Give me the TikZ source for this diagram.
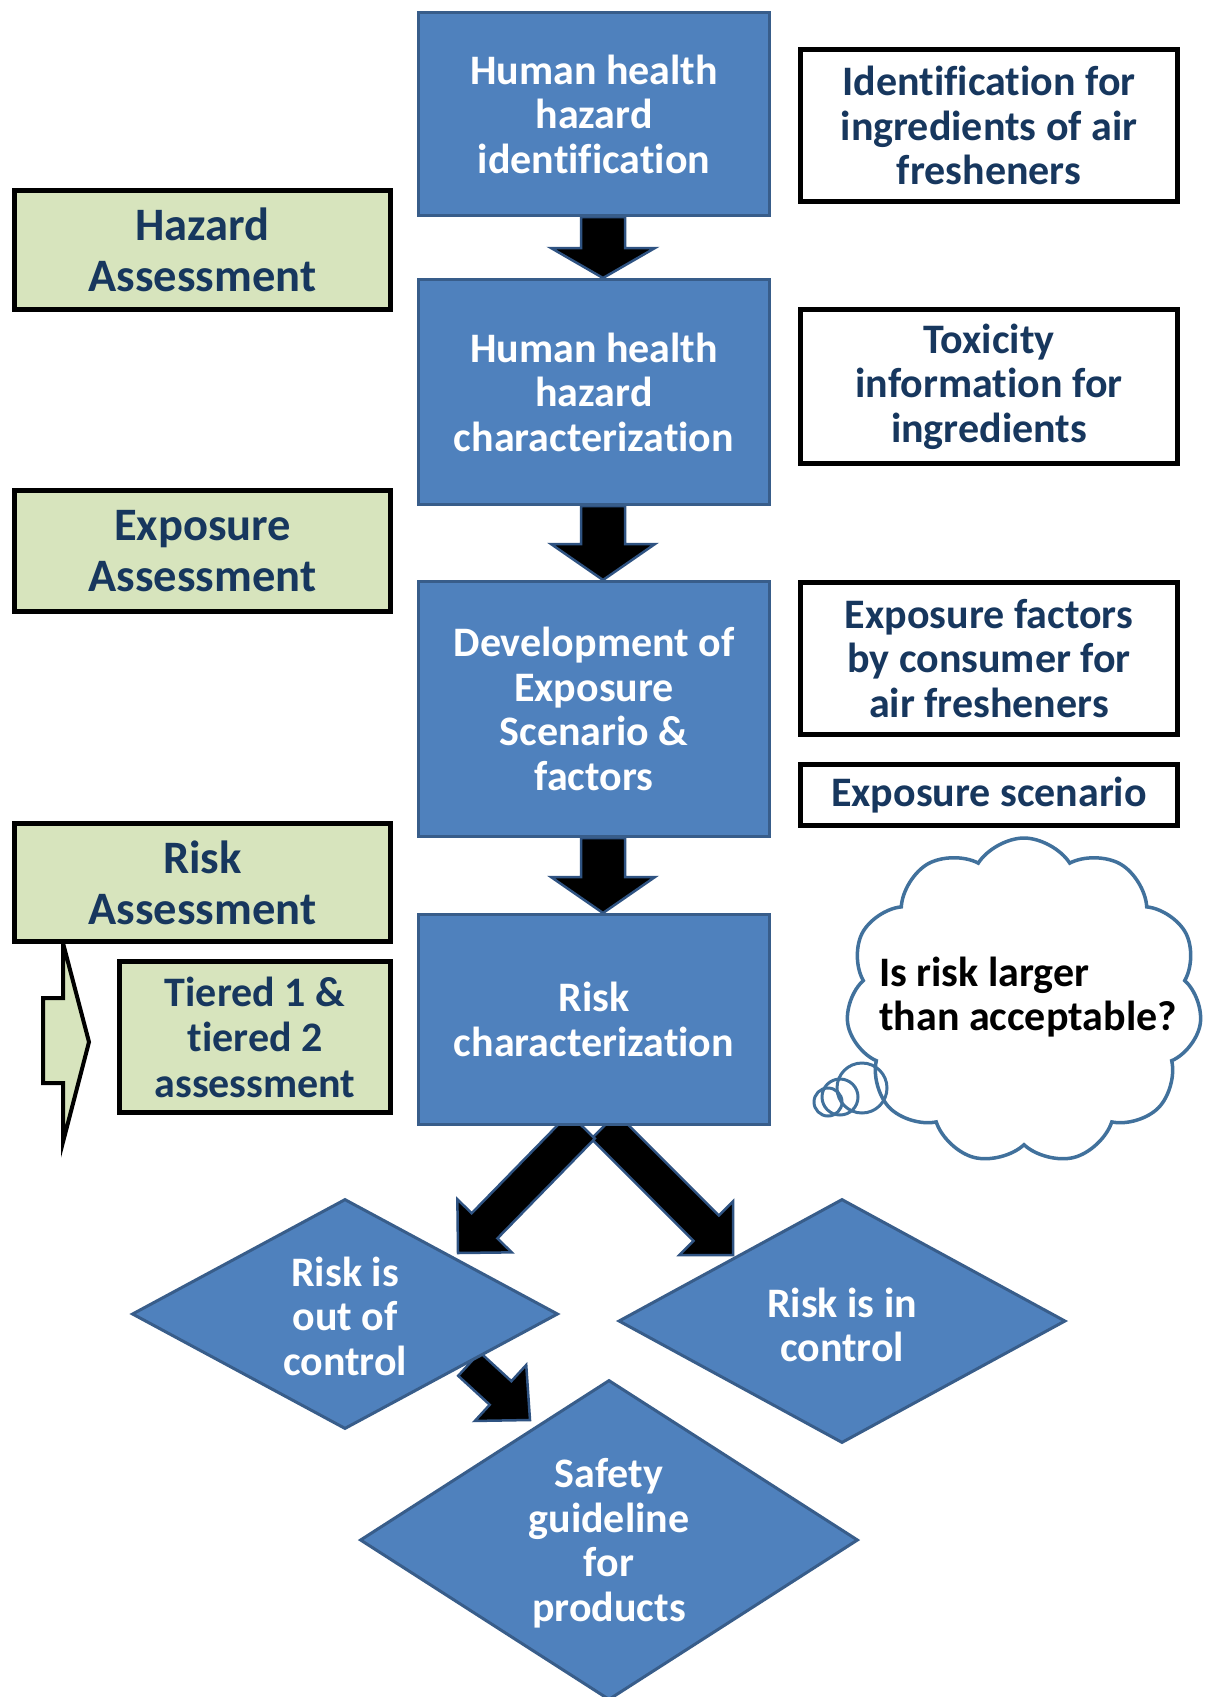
\documentclass[tikz,border=0pt]{standalone}
\usepackage{fontspec}
\setmainfont{Carlito}[Ligatures={NoCommon,NoRequired,NoContextual}]
\usetikzlibrary{calc,shapes.geometric,shapes.symbols,backgrounds}
\definecolor{bluefill}{HTML}{4F81BD}
\definecolor{blueedge}{HTML}{385D8A}
\definecolor{greenfill}{HTML}{D7E4BD}
\definecolor{navy}{HTML}{17375E}
\definecolor{cloudedge}{HTML}{41719C}
\definecolor{arrowedge}{HTML}{2F5382}
\tikzset{
  bluebox/.style={rectangle, fill=bluefill, draw=blueedge, line width=3pt, minimum width=351pt,
    text=white, font=\fontsize{42}{44.5}\selectfont\bfseries, align=center, inner sep=0pt},
  greenbox/.style={rectangle, fill=greenfill, draw=black, line width=5.5pt,
    text=navy, font=\fontsize{46.5}{51}\selectfont\bfseries, align=center, inner sep=0pt},
  whitebox/.style={rectangle, fill=white, draw=black, line width=5.5pt, minimum width=377pt,
    text=navy, font=\fontsize{42}{44.5}\selectfont\bfseries, align=center, inner sep=0pt},
  dia/.style={diamond, fill=bluefill, draw=blueedge, line width=3pt, inner sep=0pt},
  diatext/.style={text=white, font=\fontsize{42}{44.5}\selectfont\bfseries, align=center, inner sep=0pt},
  blockarrow/.style={fill=black, draw=arrowedge, line width=2.5pt, line join=miter},
  cloudtext/.style={text=black, font=\fontsize{42}{44}\selectfont\bfseries, align=left, inner sep=0pt},
  bubble/.style={draw=cloudedge, line width=3pt},
}
% #1 start, #2 tip, #3 shaft half width, #4 head half width, #5 head length
\newcommand\blockarrowdraw[5]{%
  \coordinate (ba-s) at #1;
  \coordinate (ba-t) at #2;
  \coordinate (ba-b) at ($(ba-t)!#5!(ba-s)$);
  \draw[blockarrow] ($(ba-s)!#3!90:(ba-t)$) -- ($(ba-b)!#3!90:(ba-t)$)
    -- ($(ba-b)!#4!90:(ba-t)$) -- (ba-t) -- ($(ba-b)!#4!-90:(ba-t)$)
    -- ($(ba-b)!#3!-90:(ba-t)$) -- ($(ba-s)!#3!-90:(ba-t)$) -- cycle;
}
\begin{document}
\begin{tikzpicture}[x=1pt,y=-1pt]
\useasboundingbox (0,0) rectangle (1206,1697);

% main column
\node[bluebox, minimum height=203pt] (b1) at (594,114) {Human health\\hazard\\identification};
\node[bluebox, minimum height=225pt] (b2) at (594,392) {Human health\\hazard\\characterization};
\node[bluebox, minimum height=255pt] (b3) at (594,709) {Development of\\Exposure\\Scenario \&\\factors};
\node[bluebox, minimum height=210pt] (b4) at (594,1019.5) {Risk\\characterization};

% left chevron
\draw[fill=greenfill, draw=black, line width=4pt, line join=miter]
  (63,943) -- (89,1042) -- (63,1142) -- (63,1083) -- (43,1083) -- (43,998) -- (63,998) -- cycle;

% green boxes
\node[greenbox, minimum width=376pt, minimum height=119pt] (g1) at (202.5,250) {Hazard\\Assessment};
\node[greenbox, minimum width=376pt, minimum height=121pt] (g2) at (202.5,551) {Exposure\\Assessment};
\node[greenbox, minimum width=376pt, minimum height=118pt] (g3) at (202.5,882.5) {Risk\\Assessment};
\node[greenbox, minimum width=271pt, minimum height=151pt, font=\fontsize{42}{45.5}\selectfont\bfseries] (g4) at (255,1037) {Tiered 1 \&\\tiered 2\\assessment};

% white boxes
\node[whitebox, minimum height=152pt] (w1) at (989,125.5) {Identification for\\ingredients of air\\fresheners};
\node[whitebox, minimum height=154pt] (w2) at (989,386.5) {Toxicity\\information for\\ingredients};
\node[whitebox, minimum height=152pt] (w3) at (989,658.5) {Exposure factors\\by consumer for\\air fresheners};
\node[whitebox, minimum height=61pt] (w4) at (989,795) {Exposure scenario};

% diamonds
\node[dia, minimum width=426pt, minimum height=230pt] (d1) at (345,1314) {};
\node[diatext] (d1t) at (345,1316) {Risk is\\out of\\control};
\node[dia, minimum width=447pt, minimum height=244pt] (d2) at (842,1321) {};
\node[diatext] (d2t) at (842,1325) {Risk is in\\control};
\node[dia, minimum width=498pt, minimum height=320pt] (d3) at (609,1540) {};
\node[diatext] (d3t) at (609,1543) {Safety\\guideline\\for\\products};

% cloud
\node[cloud, cloud puffs=11, cloud puff arc=115, aspect=1.1, draw=cloudedge, line width=3.5pt,
  fill=white, minimum width=356pt, minimum height=326pt, inner sep=0pt] (cl) at (1024,1001) {};
\draw[bubble] (862,1088) circle[radius=25];
\draw[bubble] (840,1097) circle[radius=18];
\draw[bubble] (828,1102) circle[radius=14];
\node[cloudtext, anchor=west] (q) at (879,997) {Is risk larger\\than acceptable?};

% arrows
\coordinate (tipL) at (458,1253);
\coordinate (tipR) at (733,1255);
\coordinate (tailS) at (469,1364);
\coordinate (tipS) at (530,1420);
\begin{scope}[on background layer]
  \fill[white] (0,0) rectangle (1206,1697);
  \blockarrowdraw{($(b1.south)+(9,0)$)}{($(b2.north)+(9,0)$)}{22pt}{52pt}{30pt}
  \blockarrowdraw{($(b2.south)+(9,0)$)}{($(b3.north)+(9,0)$)}{22pt}{52pt}{36pt}
  \blockarrowdraw{($(b3.south)+(9,0)$)}{($(b4.north)+(9,0)$)}{22pt}{52pt}{36pt}
  \blockarrowdraw{($(b4.south)+(10,0)$)}{(tipR)}{18pt}{38pt}{38pt}
  \blockarrowdraw{($(b4.south)+(-12,0)$)}{(tipL)}{18pt}{38pt}{38pt}
  \blockarrowdraw{(tailS)}{(tipS)}{16pt}{38pt}{40pt}
\end{scope}
\end{tikzpicture}
\end{document}
